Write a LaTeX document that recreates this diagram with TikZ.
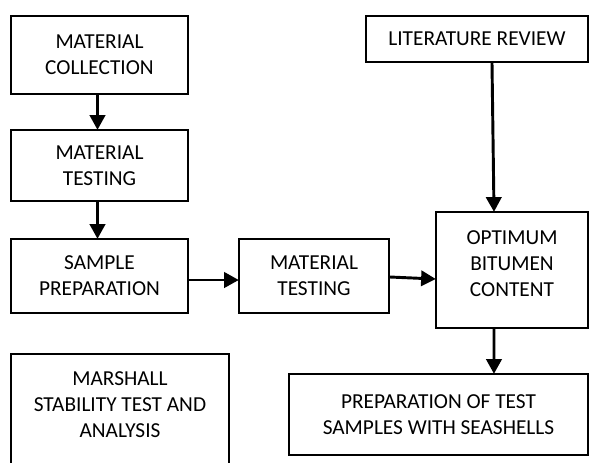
\documentclass[tikz,border=0pt]{standalone}
\usepackage{fontspec}
\setmainfont{Carlito}
\usetikzlibrary{arrows.meta}
\begin{document}
\begin{tikzpicture}[x=0.75pt,y=-0.75pt,
  box/.style={draw=black,line width=1.3pt,align=center,inner sep=0pt,
    font=\fontsize{16}{19.5}\selectfont},
  txt/.style={align=center,inner sep=0pt,font=\fontsize{16}{19.5}\selectfont},
  arr/.style={line width=2.2pt,-{Triangle[width=11.5pt,length=11pt]},shorten >=-0.5pt}]
\useasboundingbox (0,0) rectangle (590,462);
\clip (0,0) rectangle (590,462);
\fill[white] (0,0) rectangle (590,462);
\node[box,minimum width=132.75pt,minimum height=58.5pt] (mc) at (99.5,55) {MATERIAL\\COLLECTION};
\node[box,minimum width=132.75pt,minimum height=53.25pt] (mt1) at (99.5,165.5) {MATERIAL\\TESTING};
\node[box,minimum width=132.75pt,minimum height=55.5pt] (sp) at (99.5,276) {SAMPLE\\PREPARATION};
\node[box,minimum width=112.5pt,minimum height=55.5pt] (mt2) at (314,276) {MATERIAL\\TESTING};
\node[box,minimum width=166.5pt,minimum height=34.5pt] (lr) at (477,39) {LITERATURE REVIEW};
\node[box,minimum width=114pt,minimum height=87pt] (obc) at (512,270) {};
\node[txt] (obct) at (512,264) {OPTIMUM\\BITUMEN\\CONTENT};
\node[box,minimum width=224.25pt,minimum height=60.75pt] (pts) at (438.5,414.5) {PREPARATION OF TEST\\SAMPLES WITH SEASHELLS};
\node[box,minimum width=163.5pt,minimum height=95.25pt,anchor=north] (msh) at (120,353) {};
\node[txt] (msht) at (120,404.5) {MARSHALL\\STABILITY TEST AND\\ANALYSIS};
\draw[arr] ([xshift=-1.5pt]mc.south) -- ([xshift=-1.5pt]mt1.north);
\draw[arr] ([xshift=-1.5pt]mt1.south) -- ([xshift=-1.5pt]sp.north);
\draw[arr] ([yshift=-3pt]sp.east) -- ([yshift=-3pt]mt2.west);
\draw[arr] ([yshift=-0.75pt]mt2.east) -- ([yshift=-6.75pt]obc.west);
\draw[arr] ([xshift=11.25pt]lr.south) -- ([xshift=-13.5pt]obc.north);
\draw[arr] ([xshift=-13.5pt]obc.south) -- ([xshift=41.6pt]pts.north);
\end{tikzpicture}
\end{document}
